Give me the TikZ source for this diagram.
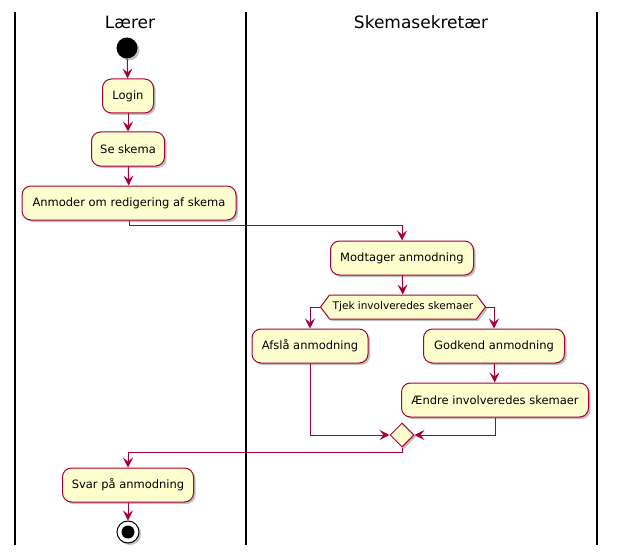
\documentclass[tikz,border=0pt]{standalone}
\usepackage{fontspec}
\setmainfont{DejaVu Sans}
\usetikzlibrary{arrows.meta,shapes.geometric,shapes.symbols,shadows}
\definecolor{pumlred}{HTML}{A80036}
\definecolor{pumlfill}{HTML}{FEFECE}
\tikzset{
  shad/.style={drop shadow={shadow xshift=2pt,shadow yshift=-2pt,opacity=0.25,fill=black}},
  act/.style={draw=pumlred, fill=pumlfill, rounded corners=9pt, line width=1pt,
    minimum height=34pt, inner sep=0pt, font=\fontsize{11.5}{13}\selectfont, shad},
  cond/.style={draw=pumlred, fill=pumlfill, line width=1pt, shape=signal,
    signal to=west and east, signal pointer angle=106, minimum height=24pt,
    inner sep=0pt, font=\fontsize{10.5}{12}\selectfont, shad},
  merge/.style={draw=pumlred, fill=pumlfill, line width=1pt, shape=diamond,
    minimum width=24pt, minimum height=24pt, inner sep=0pt, shad},
  flow/.style={draw=pumlred, line width=1pt, -{Stealth[length=10pt,width=10pt,inset=4pt]}},
  lane/.style={line width=1.5pt, black},
  title/.style={font=\fontsize{17}{20}\selectfont}
}
\begin{document}
\begin{tikzpicture}[x=1pt,y=-1pt]
\useasboundingbox (0,0) rectangle (618,559);
% lanes
\draw[lane] (15,12) -- (15,545);
\draw[lane] (246,12) -- (246,545);
\draw[lane] (597,12) -- (597,545);
\node[title] (t1) at (130,22) {Lærer};
\node[title] (t2) at (421,22) {Skemasekretær};
% nodes
\node[circle, fill=black, minimum size=21pt, inner sep=0pt, shad] (start) at (127,48) {};
\node[act, minimum width=51pt] (login) at (128,96) {Login};
\node[act, minimum width=73pt] (se) at (128,149) {Se skema};
\node[act, minimum width=214pt] (anm) at (129,203) {Anmoder om redigering af skema};
\node[act, minimum width=143pt] (modt) at (402,258) {Modtager anmodning};
\node[cond, minimum width=165pt] (chk) at (403,307) {Tjek involveredes skemaer};
\node[act, minimum width=116pt] (afs) at (310,346) {Afslå anmodning};
\node[act, minimum width=141pt] (god) at (494,346) {Godkend anmodning};
\node[act, minimum width=187pt] (aen) at (495,400) {Ændre involveredes skemaer};
\node[merge] (mer) at (402,435) {};
\node[act, minimum width=131pt] (svar) at (128,485) {Svar på anmodning};
\node[circle, draw=black, line width=1pt, fill=white, minimum size=22pt, inner sep=0pt, shad] (stop) at (128,532) {};
\node[circle, fill=black, minimum size=13pt, inner sep=0pt] (stopin) at (stop.center) {};
% connectors
\draw[flow] (start) -- (login);
\draw[flow] (login) -- (se);
\draw[flow] (se) -- (anm);
\draw[flow] (anm.south) -- ++(0,5) -| (modt.north);
\draw[flow] (modt) -- (chk);
\draw[flow] (chk.west) -| (afs.north);
\draw[flow] (chk.east) -| (god.north);
\draw[flow] (god) -- (aen);
\draw[flow] (afs.south) |- (mer.west);
\draw[flow] (aen.south) |- (mer.east);
\draw[flow] (mer.south) -- ++(0,5) -| (svar.north);
\draw[flow] (svar) -- (stop);
\end{tikzpicture}
\end{document}
